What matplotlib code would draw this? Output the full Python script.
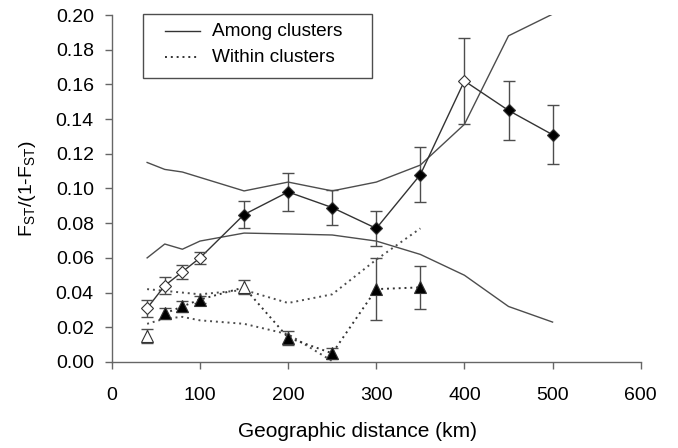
import matplotlib
matplotlib.use('Agg')
import matplotlib.pyplot as plt
from matplotlib.lines import Line2D
from matplotlib.patches import Rectangle

plt.rcParams['font.family'] = ['Liberation Sans', 'DejaVu Sans']

# among clusters (diamonds)
dist_d = [40, 60, 80, 100, 150, 200, 250, 300, 350, 400, 450, 500]
fst_d = [0.031, 0.044, 0.052, 0.060, 0.085, 0.098, 0.089, 0.077, 0.108, 0.162, 0.145, 0.131]
err_d = [0.005, 0.005, 0.004, 0.0035, 0.008, 0.011, 0.010, 0.010, 0.016, 0.025, 0.017, 0.017]
open_d = [True, True, True, True, False, False, False, False, False, True, False, False]
among_hi_x = [40, 60, 80, 150, 200, 250, 300, 350, 400, 450, 500]
among_hi = [0.115, 0.111, 0.1095, 0.0986, 0.1037, 0.0986, 0.1037, 0.1135, 0.137, 0.188, 0.2005]
among_lo_x = [40, 60, 80, 100, 150, 200, 250, 300, 350, 400, 450, 500]
among_lo = [0.060, 0.068, 0.065, 0.0697, 0.0743, 0.0738, 0.0732, 0.0697, 0.062, 0.050, 0.032, 0.023]

# within clusters (triangles)
dist_t = [40, 60, 80, 100, 150, 200, 250, 300, 350]
fst_t = [0.015, 0.028, 0.032, 0.036, 0.043, 0.014, 0.005, 0.042, 0.043]
err_t = [0.004, 0.003, 0.003, 0.002, 0.004, 0.004, 0.003, 0.018, 0.0125]
open_t = [True, False, False, False, True, False, False, False, False]
within_hi_x = [40, 60, 80, 100, 150, 200, 250, 300, 350]
within_hi = [0.042, 0.041, 0.040, 0.039, 0.0415, 0.034, 0.039, 0.059, 0.077]
within_lo_x = [40, 60, 80, 100, 150, 200, 250]
within_lo = [0.022, 0.025, 0.026, 0.024, 0.022, 0.016, 0.0005]

legend_labels = ['Among clusters', 'Within clusters']

dots = (0, (1, 2))

fig = plt.figure(figsize=(6.78, 4.48), dpi=100)
ax = fig.add_axes([0.165, 0.192, 0.78, 0.7745])

# envelopes
ax.plot(among_hi_x, among_hi, color='0.3', lw=1)
ax.plot(among_lo_x, among_lo, color='0.3', lw=1)
ax.plot(within_hi_x, within_hi, color='0.3', lw=1.4, ls=dots)
ax.plot(within_lo_x, within_lo, color='0.3', lw=1.4, ls=dots)

# data lines
ax.plot(dist_d, fst_d, color='0.2', lw=1)
ax.plot(dist_t[1:], fst_t[1:], color='0.2', lw=1.4, ls=dots)

# error bars and markers
ax.errorbar(dist_d, fst_d, yerr=err_d, fmt='none', ecolor='0.3',
            elinewidth=1, capsize=4, capthick=1)
ax.errorbar(dist_t, fst_t, yerr=err_t, fmt='none', ecolor='0.3',
            elinewidth=1, capsize=4, capthick=1)
for x, y, o in zip(dist_d, fst_d, open_d):
    ax.plot(x, y, 'D', ms=6, mec='0.2', mew=0.8,
            mfc='white' if o else 'black', zorder=4)
for x, y, o in zip(dist_t, fst_t, open_t):
    ax.plot(x, y, '^', ms=8, mec='0.2', mew=0.8,
            mfc='white' if o else 'black', zorder=4)

ax.set_xlim(0, 600)
ax.set_ylim(0, 0.2)
ax.set_xticks(range(0, 601, 100))
ax.set_yticks([i * 0.02 for i in range(11)])
ax.set_yticklabels(['%.2f' % (i * 0.02) for i in range(11)])
ax.tick_params(direction='out', length=5, width=1, color='0.4',
               labelsize=14)
ax.tick_params(axis='x', pad=13)
ax.tick_params(axis='y', pad=8)
for s in ['top', 'right']:
    ax.spines[s].set_visible(False)
for s in ['left', 'bottom']:
    ax.spines[s].set_color('0.4')
    ax.spines[s].set_linewidth(1)

ax.set_xlabel('Geographic distance (km)', fontsize=15)
ax.xaxis.set_label_coords(0.465, -0.172)
ax.set_ylabel(r'F$_{\mathregular{ST}}$/(1-F$_{\mathregular{ST}}$)',
              fontsize=14)
ax.yaxis.set_label_coords(-0.14, 0.5)

# legend box drawn in figure pixels
W, H = 678.0, 448.0
fig.patches.append(Rectangle((143 / W, 1 - 78 / H), 229 / W, 64 / H,
                             transform=fig.transFigure, fill=False,
                             edgecolor='0.3', lw=1, zorder=5))
for row, (lab, style, lw) in enumerate(zip(legend_labels, ['-', dots], [1, 1.4])):
    yy = 1 - (31 + 26 * row) / H
    fig.lines.append(Line2D([165 / W, 200 / W], [yy, yy], color='0.2',
                            lw=lw, ls=style, transform=fig.transFigure))
    fig.text(212 / W, yy, lab, fontsize=13.7, va='center', ha='left')

fig.savefig('out.png', dpi=100)
